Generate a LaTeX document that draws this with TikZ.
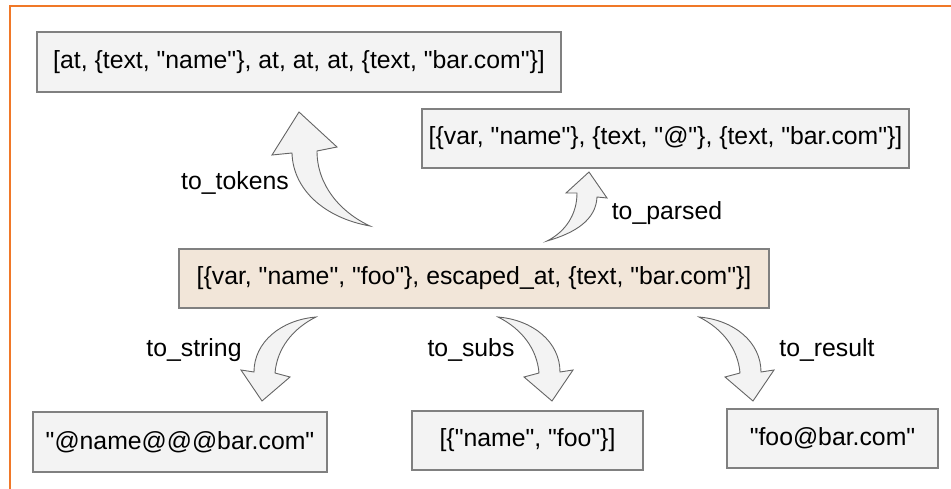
\documentclass[tikz,border=0pt]{standalone}
\usepackage{fontspec}
\setmainfont{Liberation Sans}[Ligatures=TeXOff]
\begin{document}
\begin{tikzpicture}[x=1pt,y=-1pt,
  every node/.style={font=\fontsize{24.8}{29}\selectfont, text=black, inner sep=0pt},
  box/.style={draw=boxline, line width=1.3pt, fill=boxfill, rectangle},
  srcbox/.style={box, fill=srcfill},
  blockarrow/.style={draw=arrowline, line width=0.9pt, fill=boxfill, line join=miter},
  lbl/.style={anchor=center}]
\definecolor{boxline}{RGB}{128,128,128}
\definecolor{boxfill}{RGB}{243,243,243}
\definecolor{srcfill}{RGB}{242,230,217}
\definecolor{arrowline}{RGB}{100,100,100}
\definecolor{frame}{RGB}{240,120,40}

\useasboundingbox (0,0) rectangle (951,489);

% frame edges along the top and left
\draw[frame, line width=1.8pt] (10,489) -- (10,6) -- (951,6);

% data boxes
\node[box, minimum width=524pt, minimum height=60pt] (tokens) at (299,62)
  {[at, \{text, "name"\}, at, at, at, \{text, "bar.com"\}]};
\node[box, minimum width=487pt, minimum height=59pt] (parsed) at (665.5,138.5)
  {[\{var, "name"\}, \{text, "@"\}, \{text, "bar.com"\}]};
\node[srcbox, minimum width=590pt, minimum height=59pt] (src) at (474,278.5)
  {[\{var, "name", "foo"\}, escaped\_at, \{text, "bar.com"\}]};
\node[box, minimum width=294pt, minimum height=60pt] (string) at (180,442)
  {"@name@@@bar.com"};
\node[box, minimum width=231pt, minimum height=59pt] (subs) at (527.5,440.5)
  {[\{"name", "foo"\}]};
\node[box, minimum width=211pt, minimum height=59pt] (result) at (832.5,438.5)
  {"foo@bar.com"};

% curved block arrows
% to_tokens: up and to the left
\draw[blockarrow] (370,226) .. controls (325,218) and (293,190) .. (292,153)
  -- (272,155) -- (299,112) -- (337,147) -- (317,151)
  .. controls (317,185) and (340,212) .. (370,226) -- cycle;
% to_parsed: up and to the right
\draw[blockarrow] (547,241) .. controls (565,232) and (577,215) .. (577,193)
  -- (566,193) -- (589,172) -- (607,198) -- (597,197)
  .. controls (596,220) and (575,233) .. (547,241) -- cycle;
% to_string: down and to the left
\begin{scope}[shift={(316,317)}, xscale=-1]
\draw[blockarrow] (0,0) .. controls (35,3) and (62,25) .. (62,55)
  -- (75,53) -- (54,84) -- (26,60) -- (41,56)
  .. controls (39,32) and (24,12) .. (0,0) -- cycle;
\end{scope}
% to_subs: down and to the right
\begin{scope}[shift={(498,317)}]
\draw[blockarrow] (0,0) .. controls (35,3) and (62,25) .. (62,55)
  -- (75,53) -- (54,84) -- (26,60) -- (41,56)
  .. controls (39,32) and (24,12) .. (0,0) -- cycle;
\end{scope}
% to_result: down and to the right
\begin{scope}[shift={(699,317)}]
\draw[blockarrow] (0,0) .. controls (35,3) and (62,25) .. (62,55)
  -- (75,53) -- (54,84) -- (26,60) -- (41,56)
  .. controls (39,32) and (24,12) .. (0,0) -- cycle;
\end{scope}

% transformation labels
\node[lbl] (ltokens) at (235,183) {to\_tokens};
\node[lbl] (lparsed) at (667,213) {to\_parsed};
\node[lbl] (lstring) at (194,350) {to\_string};
\node[lbl] (lsubs) at (471,350) {to\_subs};
\node[lbl] (lresult) at (827,350) {to\_result};
\end{tikzpicture}
\end{document}
